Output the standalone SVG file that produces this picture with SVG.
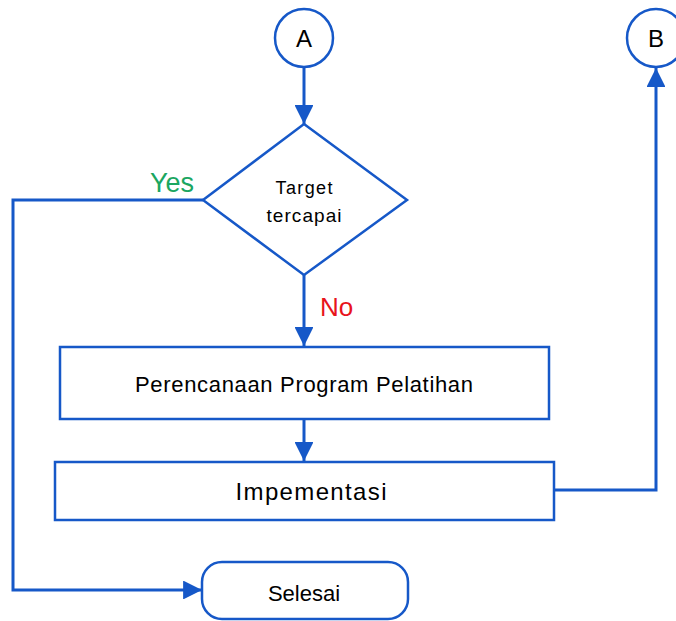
<svg xmlns="http://www.w3.org/2000/svg" width="676" height="621" viewBox="0 0 676 621">
  <defs>
    <style>
      .shape { fill: #ffffff; stroke: #1658c8; stroke-width: 2.5; }
      .wire { fill: none; stroke: #1658c8; stroke-width: 3; }
      .lbl { font-family: "Liberation Sans", Arial, sans-serif; fill: #000000; text-anchor: middle; }
      .yes { font-family: "Liberation Sans", Arial, sans-serif; fill: #1ba661; font-size: 27px; }
      .no { font-family: "Liberation Sans", Arial, sans-serif; fill: #e8141b; font-size: 26px; }
    </style>
    <marker id="head" viewBox="0 0 10 10" refX="10" refY="5" markerWidth="6.5" markerHeight="6.3" markerUnits="strokeWidth" orient="auto">
      <path d="M0,0 L10,5 L0,10 Z" fill="#1658c8"/>
    </marker>
  </defs>

  <!-- connectors -->
  <g id="connectors">
    <path class="wire" d="M304,67 L304,124" marker-end="url(#head)"/>
    <path class="wire" d="M304,275 L304,346" marker-end="url(#head)"/>
    <path class="wire" d="M304,419 L304,461" marker-end="url(#head)"/>
    <path class="wire" d="M203,200 L13,200 L13,590 L202,590" marker-end="url(#head)"/>
    <path class="wire" d="M554,490 L656,490 L656,68" marker-end="url(#head)"/>
    <text class="yes" x="150" y="192">Yes</text>
    <text class="no" x="320" y="316">No</text>
  </g>

  <g id="node-a">
    <circle class="shape" cx="304" cy="38" r="29"/>
    <text class="lbl" x="304" y="47" font-size="24">A</text>
  </g>

  <g id="node-b">
    <circle class="shape" cx="656" cy="38" r="29"/>
    <text class="lbl" x="656" y="47" font-size="24">B</text>
  </g>

  <g id="node-decision">
    <polygon class="shape" points="304,124 407,200 304,275 203,200"/>
    <text class="lbl" x="304" y="194" font-size="18" textLength="57" lengthAdjust="spacing">Target</text>
    <text class="lbl" x="304" y="222" font-size="19" textLength="75" lengthAdjust="spacing">tercapai</text>
  </g>

  <g id="node-perencanaan">
    <rect class="shape" x="60" y="347" width="489" height="72"/>
    <text class="lbl" x="304" y="392" font-size="22" textLength="338" lengthAdjust="spacing">Perencanaan Program Pelatihan</text>
  </g>

  <g id="node-implementasi">
    <rect class="shape" x="55" y="462" width="499" height="58"/>
    <text class="lbl" x="311" y="500" font-size="24" textLength="151" lengthAdjust="spacing">Impementasi</text>
  </g>

  <g id="node-selesai">
    <rect class="shape" x="202" y="562" width="206" height="57" rx="20" ry="20"/>
    <text class="lbl" x="304" y="601" font-size="22">Selesai</text>
  </g>
</svg>
